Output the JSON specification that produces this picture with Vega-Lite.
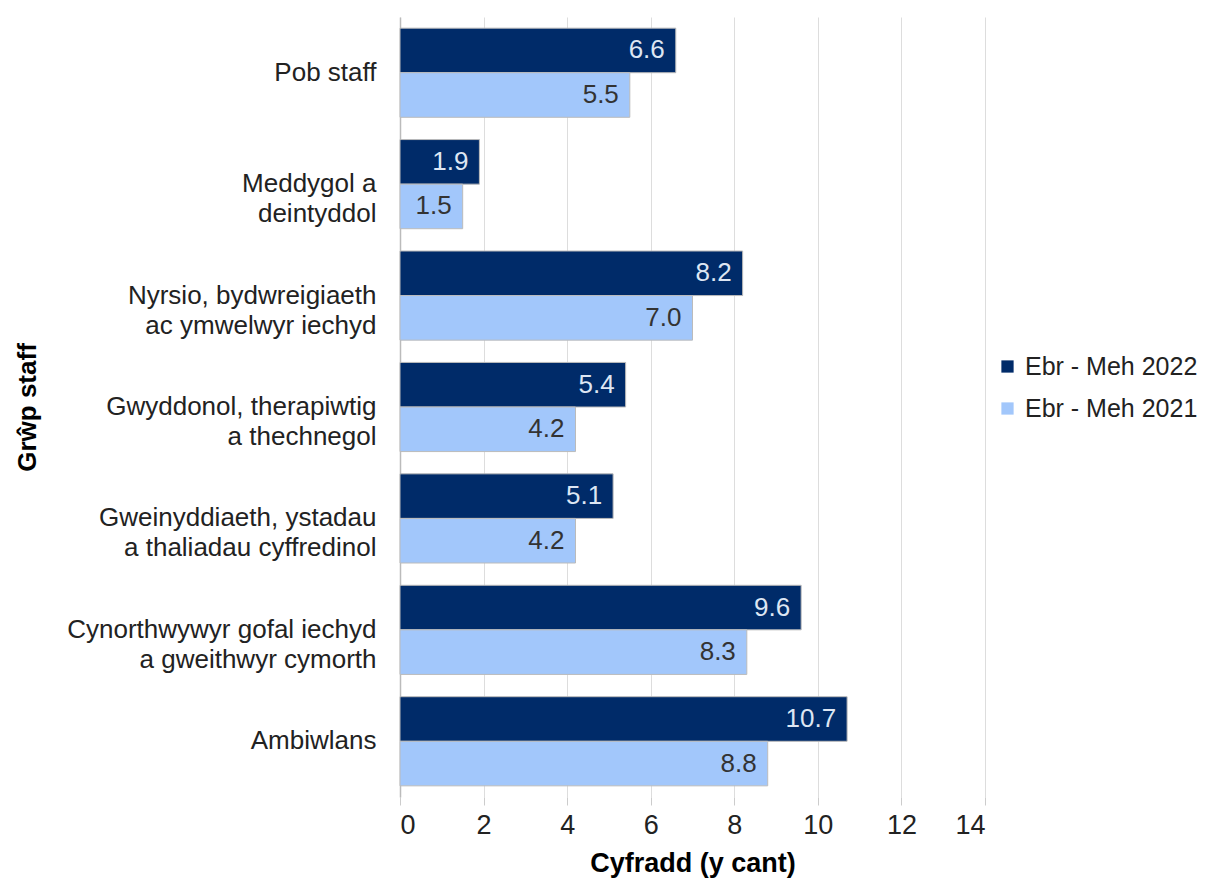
{
  "$schema": "https://vega.github.io/schema/vega-lite/v6.json",
  "autosize": {"type": "none"},
  "padding": {"left": 400, "top": 17, "right": 227, "bottom": 82},
  "width": 585,
  "height": 780,
  "background": "white",
  "config": {
    "font": "Liberation Sans",
    "view": {"stroke": null}
  },
  "data": {
    "values": [
      {"group": "Pob staff", "period": "Ebr - Meh 2022", "value": 6.6},
      {"group": "Pob staff", "period": "Ebr - Meh 2021", "value": 5.5},
      {"group": "Meddygol a|deintyddol", "period": "Ebr - Meh 2022", "value": 1.9},
      {"group": "Meddygol a|deintyddol", "period": "Ebr - Meh 2021", "value": 1.5},
      {"group": "Nyrsio, bydwreigiaeth|ac ymwelwyr iechyd", "period": "Ebr - Meh 2022", "value": 8.2},
      {"group": "Nyrsio, bydwreigiaeth|ac ymwelwyr iechyd", "period": "Ebr - Meh 2021", "value": 7.0},
      {"group": "Gwyddonol, therapiwtig|a thechnegol", "period": "Ebr - Meh 2022", "value": 5.4},
      {"group": "Gwyddonol, therapiwtig|a thechnegol", "period": "Ebr - Meh 2021", "value": 4.2},
      {"group": "Gweinyddiaeth, ystadau|a thaliadau cyffredinol", "period": "Ebr - Meh 2022", "value": 5.1},
      {"group": "Gweinyddiaeth, ystadau|a thaliadau cyffredinol", "period": "Ebr - Meh 2021", "value": 4.2},
      {"group": "Cynorthwywyr gofal iechyd|a gweithwyr cymorth", "period": "Ebr - Meh 2022", "value": 9.6},
      {"group": "Cynorthwywyr gofal iechyd|a gweithwyr cymorth", "period": "Ebr - Meh 2021", "value": 8.3},
      {"group": "Ambiwlans", "period": "Ebr - Meh 2022", "value": 10.7},
      {"group": "Ambiwlans", "period": "Ebr - Meh 2021", "value": 8.8}
    ]
  },
  "encoding": {
    "y": {
      "field": "group",
      "type": "nominal",
      "sort": null,
      "scale": {"paddingInner": 0.2, "paddingOuter": 0.1},
      "axis": {
        "title": "Grŵp staff",
        "titleFontSize": 26,
        "titleFontWeight": "bold",
        "titleColor": "#000000",
        "titleX": -360,
        "titleY": 390,
        "titleAngle": -90,
        "labelExpr": "split(datum.label, '|')",
        "labelFontSize": 26,
        "labelColor": "#222222",
        "labelPadding": 24,
        "labelLineHeight": 30,
        "labelLimit": 400,
        "ticks": false,
        "domainColor": "#bbbbbb",
        "domainWidth": 1.5
      }
    },
    "yOffset": {"field": "period", "type": "nominal", "sort": ["Ebr - Meh 2022", "Ebr - Meh 2021"]},
    "x": {
      "field": "value",
      "type": "quantitative",
      "scale": {"domain": [0, 14], "nice": false},
      "axis": {
        "values": [0, 2, 4, 6, 8, 10, 12, 14],
        "title": "Cyfradd (y cant)",
        "titleFontSize": 27,
        "titleFontWeight": "bold",
        "titleColor": "#000000",
        "titleY": 53,
        "titleBaseline": "top",
        "labelFontSize": 27,
        "labelColor": "#222222",
        "labelPadding": 7,
        "domain": false,
        "tickColor": "#cccccc",
        "tickSize": 8,
        "gridColor": "#dddddd",
        "grid": true
      }
    }
  },
  "layer": [
    {
      "mark": {"type": "bar", "stroke": "#bbbbbb", "strokeWidth": 1},
      "encoding": {
        "color": {
          "field": "period",
          "type": "nominal",
          "sort": ["Ebr - Meh 2022", "Ebr - Meh 2021"],
          "scale": {"domain": ["Ebr - Meh 2022", "Ebr - Meh 2021"], "range": ["#002b69", "#a2c7fb"]},
          "legend": {
            "title": null,
            "orient": "none",
            "legendX": 595,
            "legendY": 337,
            "symbolType": "square",
            "symbolSize": 150,
            "symbolStrokeWidth": 0,
            "labelFontSize": 25,
            "labelColor": "#222222",
            "labelOffset": 5,
            "labelLimit": 300,
            "rowPadding": 16
          }
        }
      }
    },
    {
      "mark": {"type": "text", "align": "right", "baseline": "middle", "dx": -11, "fontSize": 26},
      "encoding": {
        "text": {"field": "value", "type": "quantitative", "format": ".1f"},
        "color": {
          "condition": {"test": "datum.period === 'Ebr - Meh 2022'", "value": "#dde6f3"},
          "value": "#333333"
        }
      }
    }
  ]
}
